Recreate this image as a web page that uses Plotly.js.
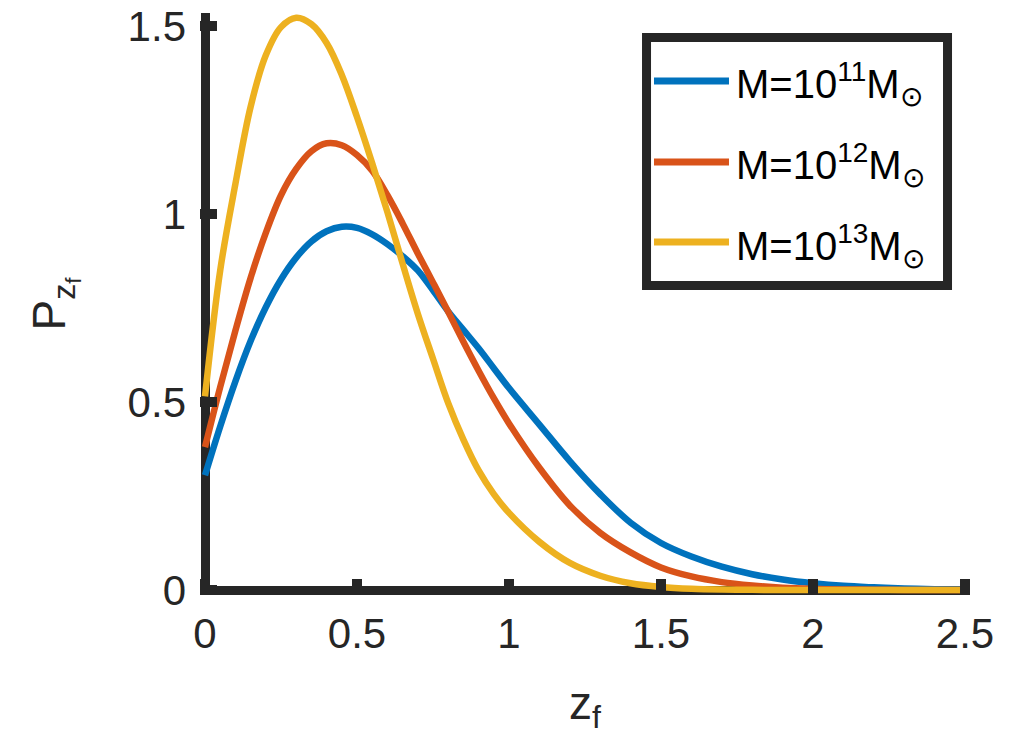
<!DOCTYPE html>
<html>
<head>
<meta charset="utf-8">
<script src="https://cdn.plot.ly/plotly-3.0.1.min.js"></script>
<style>
  html, body { margin: 0; padding: 0; background: #ffffff; }
  #chart { width: 1030px; height: 739px; }
</style>
</head>
<body>
<div id="chart"></div>
<script>
// Formation-redshift distributions for three halo masses
const zf = [0, 0.05, 0.1, 0.15, 0.2, 0.25, 0.3, 0.35, 0.4, 0.45, 0.5, 0.55, 0.6, 0.65, 0.7,
            0.75, 0.8, 0.85, 0.9, 0.95, 1.0, 1.1, 1.2, 1.3, 1.4, 1.5, 1.6, 1.7, 1.8, 1.9,
            2.0, 2.1, 2.2, 2.3, 2.4, 2.5];

const pM11 = [0.305, 0.435, 0.555, 0.662, 0.752, 0.826, 0.884, 0.927, 0.954, 0.966, 0.963, 0.946,
              0.92, 0.888, 0.85, 0.797, 0.741, 0.692, 0.643, 0.59, 0.537, 0.44, 0.343, 0.255,
              0.179, 0.125, 0.089, 0.062, 0.042, 0.028, 0.018, 0.011, 0.007, 0.004, 0.002, 0.001];

const pM12 = [0.38, 0.54, 0.69, 0.83, 0.95, 1.05, 1.12, 1.167, 1.188, 1.183, 1.157, 1.115,
              1.05, 0.975, 0.895, 0.818, 0.74, 0.66, 0.583, 0.51, 0.443, 0.325, 0.225, 0.152,
              0.1, 0.06, 0.036, 0.021, 0.012, 0.006, 0.003, 0.0015, 0.0007, 0.0003, 0.0001, 0];

const pM13 = [0.515, 0.85, 1.08, 1.285, 1.422, 1.497, 1.522, 1.505, 1.455, 1.37, 1.258, 1.135,
              1.005, 0.868, 0.735, 0.615, 0.497, 0.40, 0.318, 0.255, 0.205, 0.128, 0.072, 0.038,
              0.018, 0.008, 0.003, 0.001, 0.0004, 0.0001, 0, 0, 0, 0, 0, 0];

const seriesNames = ['M=10<sup>11</sup>M<sub>⊙</sub>',
                     'M=10<sup>12</sup>M<sub>⊙</sub>',
                     'M=10<sup>13</sup>M<sub>⊙</sub>'];
const seriesColors = ['#0072BD', '#D95319', '#EDB120'];
const seriesValues = [pM11, pM12, pM13];

const xTickVals = [0, 0.5, 1, 1.5, 2, 2.5];
const xTickText = ['0', '0.5', '1', '1.5', '2', '2.5'];
const yTickVals = [0, 0.5, 1, 1.5];
const yTickText = ['0', '0.5', '1', '1.5'];

const axisInk = '#262626';
const fontFamily = 'Liberation Sans, Arial, Helvetica, sans-serif';

const traces = seriesValues.map((vals, i) => ({
  x: zf,
  y: vals,
  type: 'scatter',
  mode: 'lines',
  name: seriesNames[i],
  line: { color: seriesColors[i], width: 6.5, shape: 'spline', smoothing: 1 },
  showlegend: false,
  hoverinfo: 'skip'
}));

// Legend box drawn in paper space with line samples and labels
const legendBox = { x0: 0.5799, x1: 0.9708, y0: 0.5318, y1: 0.9579 };
const legendRowsY = [0.8832, 0.744, 0.6065];
const legendLineX = [0.5896, 0.6870];
const legendTextX = 0.6935;

const shapes = [{
  type: 'rect', xref: 'paper', yref: 'paper',
  x0: legendBox.x0, x1: legendBox.x1, y0: legendBox.y0, y1: legendBox.y1,
  line: { color: axisInk, width: 9 }, fillcolor: '#ffffff', layer: 'above'
}];
const annotations = [];
seriesNames.forEach((nm, i) => {
  shapes.push({
    type: 'line', xref: 'paper', yref: 'paper',
    x0: legendLineX[0], x1: legendLineX[1], y0: legendRowsY[i], y1: legendRowsY[i],
    line: { color: seriesColors[i], width: 7 }, layer: 'above'
  });
  annotations.push({
    xref: 'paper', yref: 'paper', x: legendTextX, y: legendRowsY[i] - 0.006,
    xanchor: 'left', yanchor: 'middle', showarrow: false, text: nm,
    font: { family: fontFamily, size: 40, color: '#000000' }
  });
});

const layout = {
  width: 1030,
  height: 739,
  margin: { l: 200, r: 60, t: 13, b: 144, pad: 0 },
  paper_bgcolor: '#ffffff',
  plot_bgcolor: '#ffffff',
  showlegend: false,
  font: { family: fontFamily, color: axisInk },
  xaxis: {
    range: [-0.01645, 2.51645],
    tickvals: xTickVals,
    ticktext: xTickText,
    ticks: 'inside',
    ticklen: 16,
    tickwidth: 10,
    tickcolor: axisInk,
    ticklabelstandoff: 10,
    tickfont: { family: fontFamily, size: 42, color: axisInk },
    showgrid: false,
    showline: false,
    zeroline: true,
    zerolinewidth: 9,
    zerolinecolor: axisInk,
    title: { text: 'z<sub>f</sub>', font: { family: fontFamily, size: 46, color: axisInk }, standoff: 30 }
  },
  yaxis: {
    range: [-0.0133, 1.5346],
    tickvals: yTickVals,
    ticktext: yTickText,
    ticks: 'inside',
    ticklen: 17,
    tickwidth: 10,
    tickcolor: axisInk,
    ticklabelstandoff: 13,
    tickfont: { family: fontFamily, size: 42, color: axisInk },
    showgrid: false,
    showline: false,
    zeroline: true,
    zerolinewidth: 9,
    zerolinecolor: axisInk,
    title: { text: 'P<sub>z<sub>f</sub></sub>', font: { family: fontFamily, size: 46, color: axisInk }, standoff: 47 }
  },
  shapes: shapes,
  annotations: annotations
};

Plotly.newPlot('chart', traces, layout, { staticPlot: true, displayModeBar: false });
</script>
</body>
</html>
